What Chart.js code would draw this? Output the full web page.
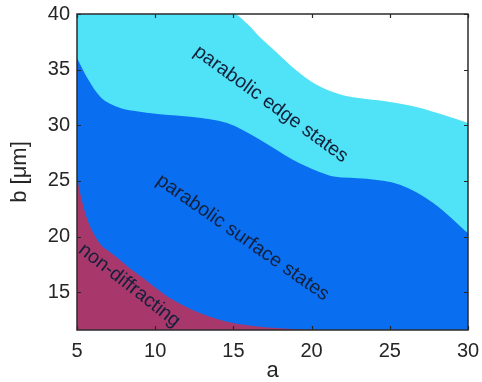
<!DOCTYPE html>
<html>
<head>
<meta charset="utf-8">
<script src="https://cdn.jsdelivr.net/npm/chart.js@4.4.1/dist/chart.umd.min.js"></script>
<style>
  html, body { margin: 0; padding: 0; background: #ffffff; }
  #wrap { width: 482px; height: 382px; position: relative; }
</style>
</head>
<body>
<div id="wrap"><canvas id="c"></canvas></div>
<script>
// ---- data ----
const xTicks = [5, 10, 15, 20, 25, 30];
const yTicks = [15, 20, 25, 30, 35, 40];

// upper edge of the "parabolic edge states" region (cyan / white boundary)
const edgeX = [5, 15.0, 15.9, 16.7, 17.8, 18.8, 19.9, 20.8, 22.0, 23.5, 25.0, 26.7, 28.5, 30];
const edgeY = [40, 40, 39.1, 37.9, 36.5, 35.2, 34.0, 33.3, 32.7, 32.35, 32.1, 31.65, 30.9, 30.2];

// upper edge of the "parabolic surface states" region (blue / cyan boundary)
const surfX = [5, 5.64, 6.5, 7.6, 8.6, 10.3, 12.4, 14.6, 16.7, 18.8, 20.5, 21.4, 23.5, 25.65, 27.8, 30];
const surfY = [36.05, 34.3, 32.55, 31.65, 31.3, 31.0, 30.75, 30.2, 28.7, 26.9, 25.8, 25.4, 25.2, 24.65, 23.0, 20.3];

// upper edge of the "non-diffracting" region (magenta / blue boundary)
const nonX = [5, 5.3, 5.7, 6.5, 7.1, 8.0, 8.6, 9.2, 10.3, 10.9, 11.8, 12.9, 14.6, 16.7, 18.8, 20];
const nonY = [25.3, 23.3, 21.4, 19.3, 18.6, 17.6, 16.9, 16.3, 15.1, 14.5, 13.8, 13.1, 12.35, 11.9, 11.7, 11.6];

const regionNames = ['non-diffracting', 'parabolic surface states', 'parabolic edge states'];
const regionColors = ['#a8386c', '#0a6ef0', '#50e2f7'];

const xMin = 5, xMax = 30, yMin = 11.6, yMax = 40;

// label anchors (data coordinates) and rotation
const labelSpots = [
  { text: regionNames[0], x: 8.35, y: 15.6, angle: 38 },
  { text: regionNames[1], x: 15.6, y: 19.9, angle: 35 },
  { text: regionNames[2], x: 17.4, y: 31.9, angle: 36 }
];

const toPts = (xs, ys) => xs.map((x, i) => ({ x: x, y: ys[i] }));

const frameAndLabels = {
  id: 'frameAndLabels',
  afterDatasetsDraw(chart) {
    const { ctx, chartArea: a, scales: { x, y } } = chart;
    ctx.save();
    // region labels
    ctx.fillStyle = '#13203a';
    ctx.font = '19.5px "Liberation Sans", Arial, sans-serif';
    ctx.textAlign = 'center';
    ctx.textBaseline = 'middle';
    labelSpots.forEach(l => {
      ctx.save();
      ctx.translate(x.getPixelForValue(l.x), y.getPixelForValue(l.y));
      ctx.rotate(l.angle * Math.PI / 180);
      ctx.fillText(l.text, 0, 0);
      ctx.restore();
    });
    // inward ticks on all four sides
    ctx.strokeStyle = '#262626';
    ctx.lineWidth = 1.2;
    const tl = 4;
    ctx.beginPath();
    xTicks.forEach(v => {
      const px = Math.round(x.getPixelForValue(v)) + 0.5;
      ctx.moveTo(px, a.bottom); ctx.lineTo(px, a.bottom - tl);
      ctx.moveTo(px, a.top); ctx.lineTo(px, a.top + tl);
    });
    yTicks.forEach(v => {
      const py = Math.round(y.getPixelForValue(v)) + 0.5;
      ctx.moveTo(a.left, py); ctx.lineTo(a.left + tl, py);
      ctx.moveTo(a.right, py); ctx.lineTo(a.right - tl, py);
    });
    ctx.stroke();
    // box
    ctx.lineWidth = 1.5;
    ctx.strokeStyle = '#2b2b2b';
    ctx.strokeRect(a.left, a.top, a.right - a.left, a.bottom - a.top);
    ctx.restore();
  }
};

const mkSet = (name, pts, color, order) => ({
  label: name,
  data: pts,
  backgroundColor: color,
  borderColor: color,
  borderWidth: 0,
  pointRadius: 0,
  fill: 'start',
  cubicInterpolationMode: 'monotone',
  order: order
});

new Chart(document.getElementById('c'), {
  type: 'line',
  data: {
    datasets: [
      mkSet(regionNames[0], toPts(nonX, nonY), regionColors[0], 0),
      mkSet(regionNames[1], toPts(surfX, surfY), regionColors[1], 1),
      mkSet(regionNames[2], toPts(edgeX, edgeY), regionColors[2], 2)
    ]
  },
  options: {
    responsive: true,
    maintainAspectRatio: false,
    animation: false,
    events: [],
    layout: { padding: { top: 14, right: 14, left: 0, bottom: 0 } },
    plugins: { legend: { display: false }, tooltip: { enabled: false } },
    scales: {
      x: {
        type: 'linear',
        min: xMin, max: xMax,
        afterBuildTicks: s => { s.ticks = xTicks.map(v => ({ value: v })); },
        afterFit: s => { s.height = 52; s.paddingLeft = 0; s.paddingRight = 0; },
        grid: { display: false, drawTicks: false },
        border: { display: false },
        ticks: {
          color: '#262626', padding: 9, maxRotation: 0,
          font: { family: '"Liberation Sans", Arial, sans-serif', size: 20 }
        },
        title: {
          display: true, text: 'a', color: '#262626',
          padding: { top: 0, bottom: 0 },
          font: { family: '"Liberation Sans", Arial, sans-serif', size: 22, lineHeight: 1 }
        }
      },
      y: {
        type: 'linear',
        min: yMin, max: yMax,
        afterBuildTicks: s => { s.ticks = yTicks.map(v => ({ value: v })); },
        afterFit: s => { s.width = 77; s.paddingTop = 0; s.paddingBottom = 0; },
        grid: { display: false, drawTicks: false },
        border: { display: false },
        ticks: {
          color: '#262626', padding: 7,
          font: { family: '"Liberation Sans", Arial, sans-serif', size: 20 }
        },
        title: {
          display: true, text: 'b [μm]', color: '#262626',
          padding: { top: 9, bottom: 0 },
          font: { family: '"Liberation Sans", Arial, sans-serif', size: 22, lineHeight: 1 }
        }
      }
    }
  },
  plugins: [frameAndLabels]
});
</script>
</body>
</html>
